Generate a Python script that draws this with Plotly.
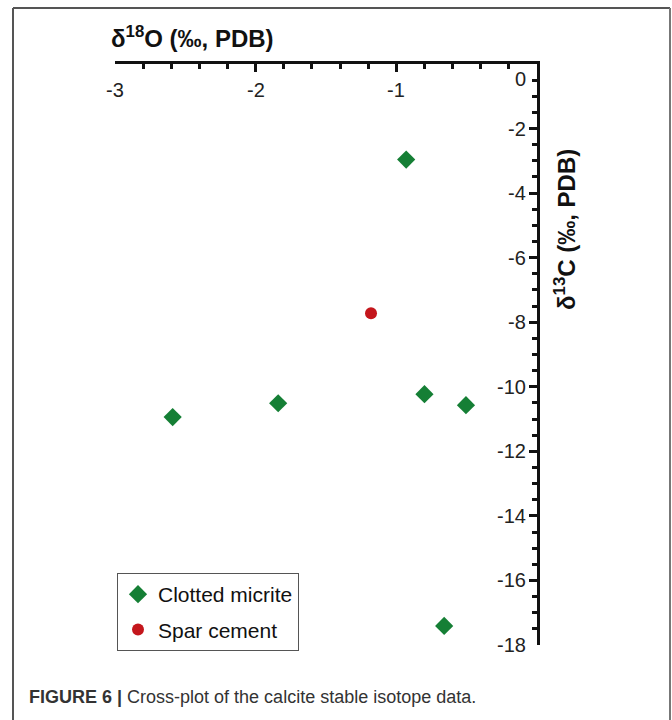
import plotly.graph_objects as go

# Data
micrite_d18O = [-0.93, -2.59, -1.84, -0.80, -0.505, -0.66]
micrite_d13C = [-2.96, -10.94, -10.51, -10.23, -10.57, -17.41]
spar_d18O = [-1.18]
spar_d13C = [-7.72]

x_ticks = [-3, -2, -1]
x_ticktext = ["-3", "-2", "-1"]
y_ticks = [0, -2, -4, -6, -8, -10, -12, -14, -16, -18]
y_ticktext = ["0", "-2", "-4", "-6", "-8", "-10", "-12", "-14", "-16", "-18"]

GREEN = "#157f35"
RED = "#c4161c"
FONT = "Liberation Sans, Arial, sans-serif"

fig = go.Figure()
fig.add_trace(go.Scatter(
    x=micrite_d18O, y=micrite_d13C, mode="markers", name="Clotted micrite",
    legendgroup="a",
    marker=dict(symbol="diamond", size=14, color=GREEN), cliponaxis=False))
fig.add_trace(go.Scatter(
    x=spar_d18O, y=spar_d13C, mode="markers", name="Spar cement",
    legendgroup="b",
    marker=dict(symbol="circle", size=12, color=RED), cliponaxis=False))

L, R, T, B = 115, 135, 64, 75
W, H = 672, 720
pw, ph = W - L - R, H - T - B

def px_x(p):
    return (p - L) / pw

def px_y(p):
    return (H - B - p) / ph

tick_font = dict(size=20, color="#222", family=FONT)
annotations = []
for v, t in zip(x_ticks, x_ticktext):
    annotations.append(dict(text=t, xref="x", yref="paper", x=v, y=1,
                            xanchor="center", yanchor="top", yshift=-13,
                            showarrow=False, font=tick_font))
for v, t in zip(y_ticks, y_ticktext):
    annotations.append(dict(text=t, xref="paper", yref="y", x=1, y=v,
                            xanchor="right", yanchor="middle", xshift=-9,
                            yshift=-15 if v == 0 else 0,
                            showarrow=False, font=tick_font))

annotations += [
    dict(text="<b>δ<sup>18</sup>O (‰, PDB)</b>", xref="paper", yref="paper",
         x=px_x(109), y=px_y(37), xanchor="left", yanchor="middle",
         showarrow=False, font=dict(size=24, color="#111")),
    dict(text="<b>δ<sup>13</sup>C (‰, PDB)</b>", xref="paper", yref="paper",
         x=px_x(565), y=px_y(230), xanchor="center", yanchor="middle",
         textangle=-90, showarrow=False, font=dict(size=24, color="#111")),
    dict(text="<b>FIGURE 6 |</b> Cross-plot of the calcite stable isotope data.",
         xref="paper", yref="paper", x=px_x(27), y=px_y(697),
         xanchor="left", yanchor="middle", showarrow=False,
         font=dict(family="Liberation Sans Narrow, Arial Narrow, sans-serif",
                   size=18, color="#333")),
]

fig.update_layout(
    width=W, height=H,
    margin=dict(l=L, r=R, t=T, b=B, pad=0),
    paper_bgcolor="white", plot_bgcolor="white",
    font=dict(family=FONT, size=18, color="#222"),
    showlegend=True,
    legend=dict(x=px_x(117), y=px_y(573), xanchor="left", yanchor="top",
                bgcolor="white", bordercolor="#555", borderwidth=1,
                tracegroupgap=5,
                font=dict(size=21, color="#111")),
    xaxis=dict(range=[-3, 0], side="top", ticks="inside",
               tickvals=x_ticks + [0], showticklabels=False, ticklen=8, tickwidth=2.5,
               tickcolor="#111", showline=True, linecolor="#111", linewidth=3,
               showgrid=False, zeroline=False,
               minor=dict(dtick=0.2, ticks="inside", ticklen=5, tickwidth=2.5,
                          tickcolor="#111", showgrid=False)),
    yaxis=dict(range=[-18, 0], side="right", ticks="inside",
               tickvals=y_ticks, showticklabels=False, ticklen=8, tickwidth=2.5,
               tickcolor="#111", showline=True, linecolor="#111", linewidth=3,
               showgrid=False, zeroline=False,
               minor=dict(dtick=0.5, ticks="inside", ticklen=5, tickwidth=2.5,
                          tickcolor="#111", showgrid=False)),
    annotations=annotations,
    shapes=[
        dict(type="line", xref="paper", yref="paper", x0=px_x(13), x1=px_x(13),
             y0=px_y(8), y1=px_y(722), line=dict(color="#555", width=2)),
        dict(type="line", xref="paper", yref="paper", x0=px_x(13), x1=px_x(670),
             y0=px_y(8), y1=px_y(8), line=dict(color="#555", width=2)),
        dict(type="line", xref="paper", yref="paper", x0=px_x(670), x1=px_x(670),
             y0=px_y(8), y1=px_y(722), line=dict(color="#777", width=2)),
    ],
)

fig.write_html("out.html")
